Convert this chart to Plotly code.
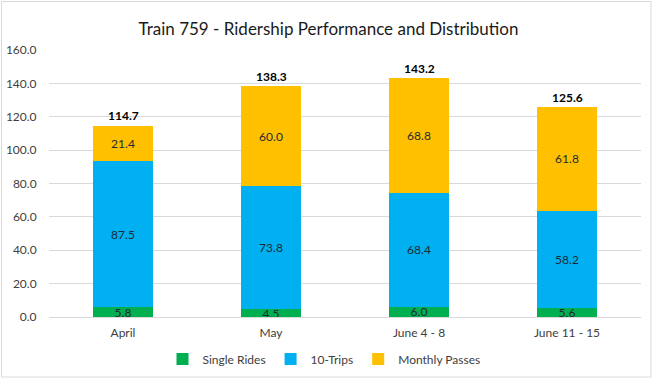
import plotly.graph_objects as go

categories = ["April", "May", "June 4 - 8", "June 11 - 15"]
single_rides = [5.8, 4.5, 6.0, 5.6]
ten_trips = [87.5, 73.8, 68.4, 58.2]
monthly_passes = [21.4, 60.0, 68.8, 61.8]
totals = [114.7, 138.3, 143.2, 125.6]
y_ticks = [0, 20, 40, 60, 80, 100, 120, 140, 160]

FONT = "Lato"
L, R, T, B = 49, 16, 50, 62
W, H = 657, 379
pw, ph = W - L - R, H - T - B

fig = go.Figure()
for name, vals, color in [
    ("Single Rides", single_rides, "#00B050"),
    ("10-Trips", ten_trips, "#00B0F0"),
    ("Monthly Passes", monthly_passes, "#FFC000"),
]:
    fig.add_trace(go.Bar(
        name=name, x=categories, y=vals, marker=dict(color=color, line=dict(width=0)),
        text=[f"{v:.1f}" for v in vals], textposition="inside", insidetextanchor="middle",
        textfont=dict(size=12, color="#1e2a36", family=FONT), hoverinfo="skip",
    ))

for cat, tot in zip(categories, totals):
    fig.add_annotation(x=cat, y=tot, text=f"<b>{tot:.1f}</b>", showarrow=False,
                       yanchor="middle", yshift=10,
                       font=dict(size=12, color="#000000", family=FONT))

fig.update_layout(
    barmode="stack", bargap=0.6,
    width=W, height=H, margin=dict(l=L, r=R, t=T, b=B, autoexpand=False),
    paper_bgcolor="white", plot_bgcolor="white",
    font=dict(family=FONT, color="#404040", size=11),
    uniformtext=dict(minsize=12, mode="show"),
    title=dict(text="Train 759 - Ridership Performance and Distribution",
               x=0.5, xanchor="center", yref="container", y=1 - 29 / H, yanchor="middle",
               font=dict(size=17, color="#1a1a1a", family=FONT)),
    legend=dict(orientation="h", xref="container", x=324 / W, xanchor="center",
                yref="container", y=1 - 359 / H, yanchor="middle",
                font=dict(size=12, color="#404040", family=FONT),
                itemwidth=30, traceorder="normal"),
    xaxis=dict(showline=True, linecolor="#d9d9d9", linewidth=1, ticks="outside",
               tickcolor="rgba(0,0,0,0)", ticklen=5,
               tickfont=dict(size=12, color="#404040")),
    yaxis=dict(range=[0, 160], tickvals=y_ticks, ticktext=[f"{v:.1f}" for v in y_ticks],
               showgrid=True, gridcolor="#d9d9d9", gridwidth=1, zeroline=False,
               tickfont=dict(size=12, color="#404040"), ticks="outside",
               tickcolor="rgba(0,0,0,0)", ticklen=9),
    shapes=[dict(type="rect", xref="paper", yref="paper",
                 x0=(1.5 - L) / pw, x1=(651 - L) / pw,
                 y0=(T + ph - 377) / ph, y1=(T + ph - 1.5) / ph,
                 line=dict(color="#d9d9d9", width=1), fillcolor="rgba(0,0,0,0)", layer="below")],
)

fig.write_html("out.html", config={"displayModeBar": False},
               post_script="document.body.style.margin='0';")
